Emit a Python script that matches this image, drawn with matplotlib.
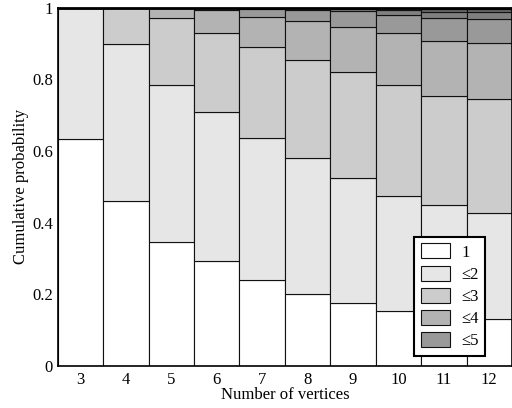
import matplotlib
matplotlib.use("Agg")
import matplotlib.pyplot as plt
from matplotlib.patches import Patch

# number of vertices on the x axis
vertices = [3, 4, 5, 6, 7, 8, 9, 10, 11, 12]

# cumulative probability that the value is <= k, one list per k
cum_1 = [0.632, 0.461, 0.347, 0.293, 0.240, 0.200, 0.177, 0.154, 0.138, 0.131]
cum_2 = [1.000, 0.897, 0.785, 0.709, 0.637, 0.579, 0.523, 0.473, 0.448, 0.426]
cum_3 = [1.000, 1.000, 0.972, 0.929, 0.889, 0.853, 0.819, 0.785, 0.752, 0.744]
cum_4 = [1.000, 1.000, 1.000, 0.993, 0.974, 0.963, 0.947, 0.928, 0.907, 0.902]
cum_5 = [1.000, 1.000, 1.000, 1.000, 0.995, 0.993, 0.989, 0.980, 0.970, 0.968]
cum_6 = [1.000, 1.000, 1.000, 1.000, 1.000, 0.999, 0.996, 0.993, 0.987, 0.987]
cum_7 = [1.000, 1.000, 1.000, 1.000, 1.000, 1.000, 1.000, 0.999, 0.995, 0.995]
cum_8 = [1.000, 1.000, 1.000, 1.000, 1.000, 1.000, 1.000, 1.000, 0.999, 0.999]
cum_9 = [1.000] * 10

levels = [cum_1, cum_2, cum_3, cum_4, cum_5, cum_6, cum_7, cum_8, cum_9]
colors = ["#ffffff", "#e6e6e6", "#cccccc", "#b3b3b3", "#999999",
          "#808080", "#666666", "#4d4d4d", "#333333"]
legend_labels = ["1", "\u22642", "\u22643", "\u22644", "\u22645"]

plt.rcParams["font.family"] = ["Liberation Serif", "DejaVu Serif"]
plt.rcParams["font.size"] = 12

fig = plt.figure(figsize=(5.12, 4.08), dpi=100)
ax = fig.add_axes([0.1127, 0.103, 0.8873, 0.8786])

prev = [0.0] * len(vertices)
for cum, col in zip(levels, colors):
    heights = [c - p for c, p in zip(cum, prev)]
    ax.bar(vertices, heights, bottom=prev, width=1.0, color=col,
           edgecolor="#111111", linewidth=0.8)
    prev = cum

ax.set_xlim(2.5, 12.5)
ax.set_ylim(0, 1)
ax.set_xticks(vertices)
ax.set_yticks([0, 0.2, 0.4, 0.6, 0.8, 1])
ax.set_yticklabels(["0", "0.2", "0.4", "0.6", "0.8", "1"])
ax.tick_params(length=0)
ax.tick_params(axis="y", pad=3.5)
ax.tick_params(axis="x", pad=4.5)
for s in ax.spines.values():
    s.set_linewidth(1.2)
ax.spines["top"].set_linewidth(2.0)

ax.set_xlabel("Number of vertices", labelpad=-1)
ax.set_ylabel("Cumulative probability", labelpad=2)

handles = [Patch(facecolor=c, edgecolor="#111111", linewidth=0.8) for c in colors[:5]]
leg = ax.legend(handles, legend_labels, loc="lower right",
                bbox_to_anchor=(0.941, 0.028), borderaxespad=0,
                fancybox=False, framealpha=1, edgecolor="black",
                handlelength=1.75, handleheight=1.0, labelspacing=0.3,
                handletextpad=0.65, borderpad=0.4)
leg.get_frame().set_linewidth(1.5)

fig.savefig("out.png", dpi=100)
